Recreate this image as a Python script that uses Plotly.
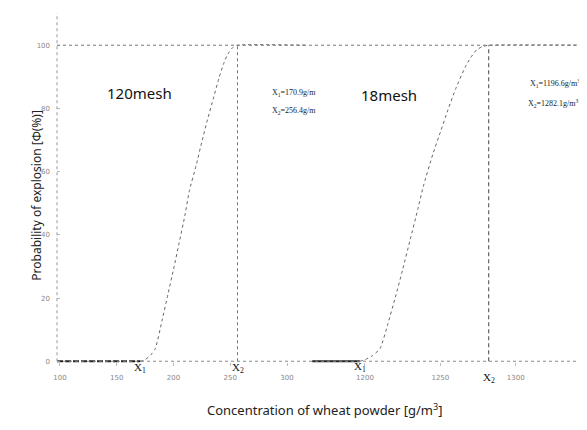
import plotly.graph_objects as go

# ---- data ----
conc_120 = [97.4, 170.9, 175, 180, 184, 190, 195, 200, 205, 210, 214, 220, 225, 230, 235, 240,
            244, 248, 252, 256.4, 318.5]
prob_120 = [0, 0, 0.5, 2, 4, 13, 21, 29, 37.5, 46, 54, 62, 69.5, 76.5, 83, 89.5,
            94, 97.3, 99.2, 100, 100]
conc_18 = [1165, 1196.6, 1200, 1205, 1210, 1215, 1220, 1225, 1230, 1235, 1238.5, 1245, 1250,
           1255, 1260, 1266.4, 1270, 1274, 1278, 1282.1, 1352.6]
prob_18 = [0, 0, 0.5, 1.8, 4, 11.5, 20, 29, 38.5, 48, 55, 65.5, 72.5,
           79.5, 86, 93, 96, 98.5, 99.6, 100, 100]
x1_120, x2_120 = 170.9, 256.4
x1_18, x2_18 = 1196.6, 1282.1
ticks_a = [100, 150, 200, 250, 300]
ticks_b = [1200, 1250, 1300, 1350]
yticks = [0, 20, 40, 60, 80, 100]

fig = go.Figure()
# zero segments (thicker)
fig.add_trace(go.Scatter(x=[conc_120[0], x1_120], y=[0, 0], mode="lines",
                         line=dict(color="#222", width=2, dash="6px,2px"), xaxis="x", yaxis="y"))
fig.add_trace(go.Scatter(x=[conc_18[0], x1_18], y=[0, 0], mode="lines",
                         line=dict(color="#222", width=2), xaxis="x2", yaxis="y"))
# curves
fig.add_trace(go.Scatter(x=conc_120[1:], y=prob_120[1:], mode="lines",
                         line=dict(color="#666", width=1, dash="dot", shape="spline", smoothing=0.5),
                         xaxis="x", yaxis="y"))
fig.add_trace(go.Scatter(x=conc_18[1:], y=prob_18[1:], mode="lines",
                         line=dict(color="#666", width=1, dash="dot", shape="spline", smoothing=0.5),
                         xaxis="x2", yaxis="y"))
# X2 vertical lines
fig.add_trace(go.Scatter(x=[x2_120, x2_120], y=[0, 100], mode="lines",
                         line=dict(color="#777", width=1, dash="dot"), xaxis="x", yaxis="y"))
fig.add_trace(go.Scatter(x=[x2_18, x2_18], y=[0, 100], mode="lines",
                         line=dict(color="#444", width=1, dash="4px,3px"), xaxis="x2", yaxis="y"))

split = (300 - 49) / 538
tickfont = dict(family="DejaVu Sans", size=7, color="#888")
fig.update_layout(
    width=587, height=430,
    margin=dict(l=49, r=0, t=5, b=72, autoexpand=False),
    paper_bgcolor="white", plot_bgcolor="white",
    showlegend=False,
    xaxis=dict(domain=[0, split], range=[97.4, 318.5], tickvals=ticks_a, automargin=False,
               showgrid=False, zeroline=False, showline=False,
               ticks="inside", ticklen=3, tickcolor="#bbb", ticklabeloverflow="allow",
               tickfont=tickfont, ticklabelstandoff=6),
    xaxis2=dict(domain=[split, 1], range=[1162.2, 1352.6], tickvals=ticks_b, anchor="y",
                automargin=False, ticklabeloverflow="allow",
                showgrid=False, zeroline=False, showline=False,
                ticks="inside", ticklen=3, tickcolor="#bbb",
                tickfont=tickfont, ticklabelstandoff=6),
    yaxis=dict(range=[-1.5, 110.2], tickvals=yticks, showgrid=False, zeroline=False,
               automargin=False,
               showline=False, ticks="inside", ticklen=3, tickcolor="#bbb",
               tickfont=tickfont, ticklabelstandoff=6),
)

# axis lines (dotted)
fig.add_shape(type="line", xref="paper", yref="y", x0=0, x1=1, y0=0, y1=0,
              line=dict(color="#888", width=1, dash="dot"))
fig.add_shape(type="line", xref="paper", yref="y", x0=0, x1=1, y0=100, y1=100,
              line=dict(color="#777", width=1, dash="dot"))
fig.add_shape(type="line", xref="paper", yref="y", x0=0, x1=0, y0=0, y1=110.2,
              line=dict(color="#999", width=1, dash="dot"))

serif = "Liberation Serif"
ann = []
ann.append(dict(text="120mesh", x=170, y=84.9, xref="x", yref="y", showarrow=False,
                font=dict(family="Noto Sans", size=15, color="#111")))
ann.append(dict(text="18mesh", x=1215.9, y=84.3, xref="x2", yref="y", showarrow=False,
                font=dict(family="Noto Sans", size=15, color="#111")))
ann.append(dict(text="X<sub>1</sub>=170.9g/m", x=285, y=84.9, xref="x", yref="y",
                xanchor="left", showarrow=False, font=dict(family=serif, size=8, color="#222")))
ann.append(dict(text="X<sub>2</sub>=256.4g/m", x=285, y=79.2, xref="x", yref="y",
                xanchor="left", showarrow=False, font=dict(family=serif, size=8, color="#222")))
ann.append(dict(text="X<sub>1</sub>=1196.6g/m<sup>3</sup>", x=1308.2, y=88.0, xref="x2", yref="y",
                xanchor="left", showarrow=False, font=dict(family=serif, size=8, color="#222")))
ann.append(dict(text="X<sub>2</sub>=1282.1g/m<sup>3</sup>", x=1306.9, y=81.7, xref="x2", yref="y",
                xanchor="left", showarrow=False, font=dict(family=serif, size=8, color="#222")))
for xv, xr, lab, sh in [(x1_120, "x", "X<sub>1</sub>", 2), (x2_120, "x", "X<sub>2</sub>", 2),
                        (x1_18, "x2", "X<sub>1</sub>", 3), (x2_18, "x2", "X<sub>2</sub>", -8)]:
    ann.append(dict(text=lab, x=xv, y=0, xref=xr, yref="y", yanchor="top", yshift=sh,
                    showarrow=False, font=dict(family=serif, size=11, color="#111")))
ann.append(dict(text="Concentration of wheat powder [g/m<sup>3</sup>]", x=0.498, y=-0.156,
                xref="paper", yref="paper", showarrow=False,
                font=dict(family="Noto Sans", size=13, color="#222")))
ann.append(dict(text="Probability of explosion [Φ(%)]", x=-0.0576, y=0.484, textangle=-90,
                xref="paper", yref="paper", showarrow=False,
                font=dict(family="Noto Sans", size=12, color="#222")))
fig.update_layout(annotations=ann)

fig.write_html("out.html")
